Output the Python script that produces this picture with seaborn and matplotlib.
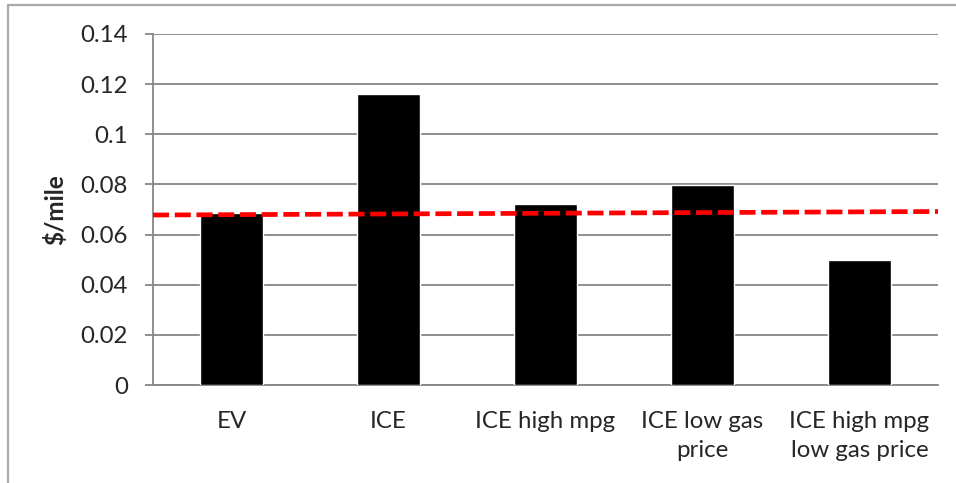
import matplotlib
matplotlib.use("Agg")
import matplotlib.pyplot as plt
from matplotlib.lines import Line2D
from matplotlib.ticker import FixedLocator
import seaborn as sns
import pandas as pd

# Cost per mile by vehicle scenario
categories = ["EV", "ICE", "ICE high mpg", "ICE low gas\nprice", "ICE high mpg\nlow gas price"]
cost_per_mile = [0.0687, 0.1160, 0.0720, 0.0798, 0.0499]

# EV reference cost line (start and end values across the chart)
ev_line_x = [-0.5, 4.5]
ev_line_y = [0.0678, 0.0692]

y_ticks = [0, 0.02, 0.04, 0.06, 0.08, 0.1, 0.12, 0.14]
y_tick_labels = ["0", "0.02", "0.04", "0.06", "0.08", "0.1", "0.12", "0.14"]

sns.set_style("white")
plt.rcParams["font.family"] = ["Lato", "DejaVu Sans"]

df = pd.DataFrame({"scenario": categories, "cost": cost_per_mile})

fig = plt.figure(figsize=(9.56, 4.83), dpi=100)
ax = fig.add_axes([153 / 956, 1 - 385 / 483, (938 - 153) / 956, (385 - 34) / 483])

sns.barplot(data=df, x="scenario", y="cost", color="black", width=0.4,
            saturation=1, ax=ax, zorder=3)

ax.plot(ev_line_x, ev_line_y, color="#ff0000", lw=3.4, ls=(0, (3.4, 1.2)),
        zorder=4, dash_capstyle="butt")

ax.set_xlim(-0.5, 4.5)
ax.set_ylim(0, 0.14)
ax.set_yticks(y_ticks)
ax.set_yticklabels(y_tick_labels)
ax.yaxis.grid(True, color="#868686", lw=1.3, zorder=0)
ax.set_axisbelow(True)

# category labels centered, tick marks at category boundaries
ax.xaxis.set_minor_locator(FixedLocator([i - 0.5 for i in range(len(categories) + 1)]))
ax.tick_params(axis="x", which="major", length=0, pad=19, labelsize=17.3)
ax.tick_params(axis="x", which="minor", length=6, width=1.3, color="#868686", direction="out")
ax.tick_params(axis="y", length=6, width=1.3, color="#868686", direction="out",
               pad=12, labelsize=17.3, left=True)
for lbl in ax.get_xticklabels():
    lbl.set_linespacing(1.45)

for side in ("top", "right"):
    ax.spines[side].set_visible(False)
for side in ("left", "bottom"):
    ax.spines[side].set_color("#868686")
    ax.spines[side].set_linewidth(1.3)

ax.set_xlabel("")
ax.set_ylabel("$/mile", fontsize=17.5, fontweight="bold")
ax.yaxis.set_label_coords(-0.125, 0.5)
ax.yaxis.label.set_va("center")

# outer chart frame (left and top edges)
fig.add_artist(Line2D([7.5 / 956, 7.5 / 956], [0, 1 - 5 / 483], transform=fig.transFigure,
                      color="#aaaaaa", lw=1.6))
fig.add_artist(Line2D([7.5 / 956, 1], [1 - 5 / 483, 1 - 5 / 483], transform=fig.transFigure,
                      color="#aaaaaa", lw=1.6))

fig.savefig("out.png", dpi=100)
